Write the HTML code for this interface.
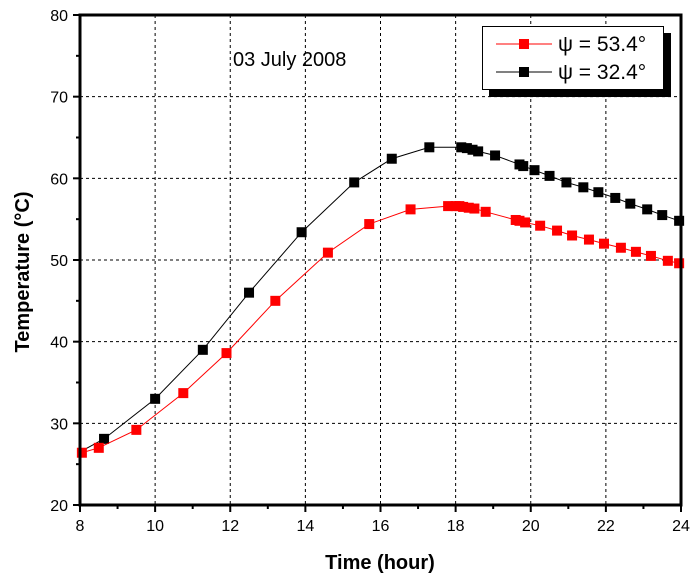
<!DOCTYPE html>
<html><head><meta charset="utf-8"><style>
body{margin:0;background:#fff}
svg{display:block;font-family:"Liberation Sans",Arial,sans-serif}
</style></head><body>
<svg id="c" width="695" height="578"></svg>
<script>
const blackX=[8.0,8.64,10.0,11.27,12.5,13.9,15.3,16.3,17.3,18.15,18.3,18.45,18.6,19.05,19.7,19.8,20.1,20.5,20.95,21.4,21.8,22.25,22.65,23.1,23.5,23.95];
const blackY=[26.5,28.1,33.0,39.0,46.0,53.4,59.5,62.4,63.8,63.8,63.7,63.5,63.3,62.8,61.7,61.5,61.0,60.3,59.5,58.9,58.3,57.6,56.9,56.2,55.5,54.8];
const redX=[8.05,8.5,9.5,10.75,11.9,13.2,14.6,15.7,16.8,17.8,18.0,18.1,18.2,18.35,18.5,18.8,19.6,19.7,19.85,20.25,20.7,21.1,21.55,21.95,22.4,22.8,23.2,23.65,23.95];
const redY=[26.4,27.0,29.2,33.7,38.6,45.0,50.9,54.4,56.2,56.6,56.6,56.6,56.5,56.4,56.3,55.9,54.9,54.8,54.6,54.2,53.6,53.0,52.5,52.0,51.5,51.0,50.5,49.9,49.6];
const xTicks=[8,10,12,14,16,18,20,22,24];
const yTicks=[20,30,40,50,60,70,80];
const X0=80,X1=681,Y0=505,Y1=15;
const sx=v=>X0+(v-8)/16*(X1-X0);
const sy=v=>Y0-(v-20)/60*(Y0-Y1);
const svg=document.getElementById('c');
const NS='http://www.w3.org/2000/svg';
function mk(t,a,p){const e=document.createElementNS(NS,t);for(const k in a)e.setAttribute(k,a[k]);(p||svg).appendChild(e);return e;}
xTicks.slice(1,-1).forEach(t=>{const l=mk('line',{x1:sx(t),x2:sx(t),y1:Y1,y2:Y0,stroke:'#000','stroke-dasharray':'3,3','stroke-width':1});

});
yTicks.slice(1,-1).forEach(t=>{const l=mk('line',{x1:X0,x2:X1,y1:sy(t),y2:sy(t),stroke:'#000','stroke-dasharray':'3,3','stroke-width':1});

});
function series(xs,ys,col,name){
  const g=mk('g',{});
  
  
  let d='';xs.forEach((x,i)=>{d+=(i?'L':'M')+sx(x)+','+sy(ys[i]);});
  mk('path',{d:d,fill:'none',stroke:col,'stroke-width':1},g);
  xs.forEach((x,i)=>{if(name==='black-series'&&i===0)return;const r=mk('rect',{x:sx(x)-5,y:sy(ys[i])-5,width:10,height:10,fill:col},g);
  
  });
}
series(blackX,blackY,'#000','black-series');
series(redX,redY,'#f00','red-series');
const fr=mk('rect',{x:X0,y:Y1,width:X1-X0,height:Y0-Y1,fill:'none',stroke:'#000','stroke-width':3});


xTicks.forEach((t,i)=>{mk('line',{x1:sx(t),x2:sx(t),y1:Y0,y2:Y0+7,stroke:'#000','stroke-width':2});
 if(i<xTicks.length-1)mk('line',{x1:sx(t+1),x2:sx(t+1),y1:Y0,y2:Y0+4,stroke:'#000','stroke-width':2});
 const tx=mk('text',{x:sx(t),y:Y0+26,'text-anchor':'middle','font-size':16});tx.textContent=t;
 
 });
yTicks.forEach((t,i)=>{mk('line',{x1:X0-7,x2:X0,y1:sy(t),y2:sy(t),stroke:'#000','stroke-width':2});
 if(i<yTicks.length-1)mk('line',{x1:X0-4,x2:X0,y1:sy(t+5),y2:sy(t+5),stroke:'#000','stroke-width':2});
 const tx=mk('text',{x:X0-12,y:sy(t)+6,'text-anchor':'end','font-size':16});tx.textContent=t;
 
 });
</script>
<svg width="695" height="578" style="position:absolute;left:0;top:0">
<text x="380" y="569" text-anchor="middle" font-size="20" font-weight="bold">Time (hour)</text>
<text transform="translate(29,272) rotate(-90)" text-anchor="middle" font-size="20" font-weight="bold">Temperature (°C)</text>
<text x="233" y="66" font-size="20">03 July 2008</text>
<g>
<rect x="489" y="33" width="182" height="64" fill="#000"/>
<rect x="482.5" y="26.5" width="181" height="63" fill="#fff" stroke="#000"/>
<line x1="496" x2="552" y1="44" y2="44" stroke="#f00"/><rect x="519" y="39" width="10" height="10" fill="#f00"/>
<text x="558" y="51" font-size="21">ψ = 53.4°</text>
<line x1="496" x2="552" y1="72" y2="72" stroke="#000"/><rect x="519" y="67" width="10" height="10" fill="#000"/>
<text x="558" y="79" font-size="21">ψ = 32.4°</text>
</g>
</svg>
</body></html>
